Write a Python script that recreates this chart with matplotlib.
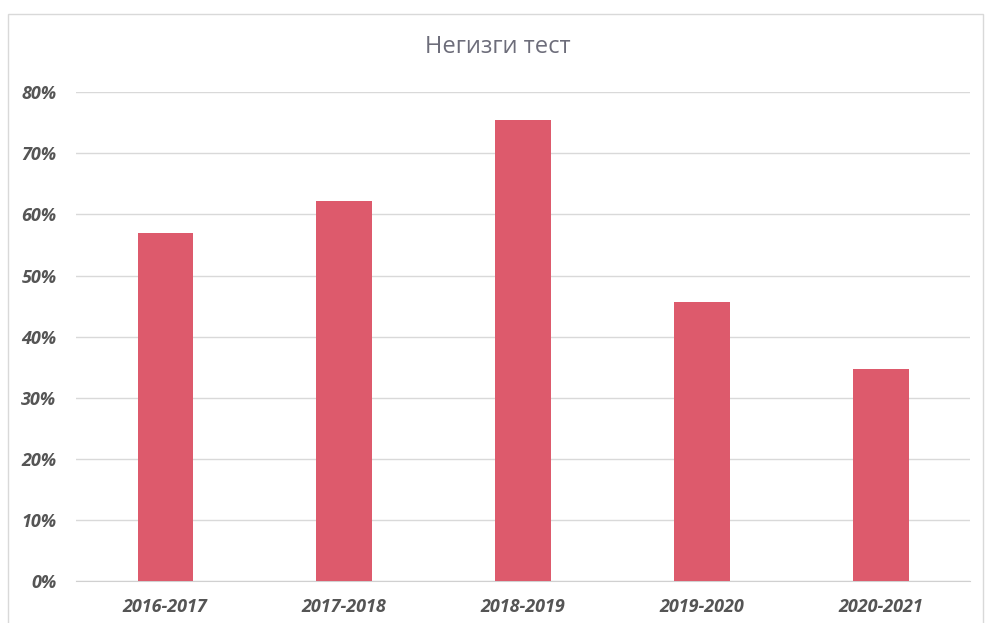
import matplotlib
matplotlib.use("Agg")
import matplotlib.pyplot as plt
from matplotlib.patches import Rectangle
from matplotlib.ticker import PercentFormatter

plt.rcParams['font.family'] = ['Liberation Sans Narrow', 'Open Sans', 'DejaVu Sans']

years = ["2016-2017", "2017-2018", "2018-2019", "2019-2020", "2020-2021"]
values = [0.57, 0.622, 0.754, 0.457, 0.347]
yticks = [0, 0.1, 0.2, 0.3, 0.4, 0.5, 0.6, 0.7, 0.8]

fig = plt.figure(figsize=(9.85, 6.23), dpi=100)
fig.patches.append(Rectangle((0.008, -0.01), 0.99, 0.988, transform=fig.transFigure,
                             fill=False, edgecolor='#d9d9d9', linewidth=1.0))
ax = fig.add_axes([0.077, 0.0674, 0.908, 0.7846])

x = range(len(years))
ax.bar(x, values, width=0.31, color='#dd5a6c', zorder=3)

ax.set_xlim(-0.5, len(years) - 0.5)
ax.set_ylim(0, 0.8)
ax.set_yticks(yticks)
ax.yaxis.set_major_formatter(PercentFormatter(1.0, decimals=0))
ax.set_xticks(list(x))
ax.set_xticklabels(years)
ax.grid(axis='y', color='#d9d9d9', linewidth=1.0, zorder=0)
for s in ax.spines.values():
    s.set_visible(False)
ax.spines['bottom'].set_visible(True)
ax.spines['bottom'].set_color('#d0d0d0')
ax.tick_params(length=0)
ax.tick_params(axis='y', pad=14)
ax.tick_params(axis='x', pad=12)
for lab in ax.get_yticklabels() + ax.get_xticklabels():
    lab.set_fontstyle('italic')
    lab.set_fontweight('bold')
    lab.set_color('#555555')
    lab.set_fontsize(13)

fig.text(0.505, 0.925, "Негизги тест", ha='center', va='center',
         fontsize=17, color='#6d6d7a')

fig.savefig("out.png", dpi=100)
